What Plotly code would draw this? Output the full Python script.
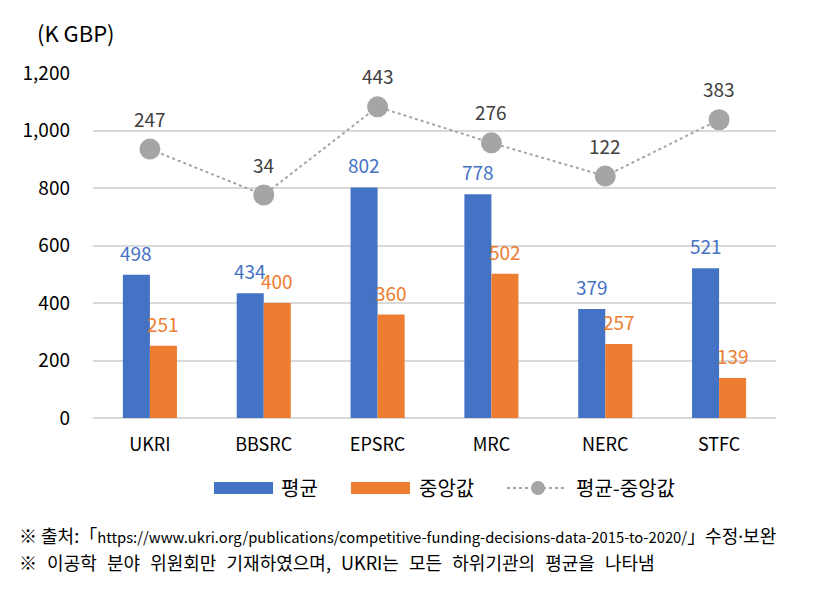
import plotly.graph_objects as go

categories = ["UKRI", "BBSRC", "EPSRC", "MRC", "NERC", "STFC"]
mean_vals = [498, 434, 802, 778, 379, 521]
median_vals = [251, 400, 360, 502, 257, 139]
diff_vals = [247, 34, 443, 276, 122, 383]
y_ticks = [0, 200, 400, 600, 800, 1000, 1200]

BLUE = "#4472C4"
ORANGE = "#ED7D31"
GRAY = "#A5A5A5"
LABEL_GRAY = "#404040"
FONT = "Noto Sans CJK KR"

L, R, T, B = 93, 776, 73, 418  # plot area in pixels

fig = go.Figure()
fig.add_trace(go.Bar(x=categories, y=mean_vals, name="평균", marker_color=BLUE,
                     marker_line_width=0))
fig.add_trace(go.Bar(x=categories, y=median_vals, name="중앙값", marker_color=ORANGE,
                     marker_line_width=0))
fig.add_trace(go.Scatter(
    x=categories, y=diff_vals, name="평균-중앙값", yaxis="y2",
    mode="lines+markers",
    line=dict(color=GRAY, width=2, dash="dot"),
    marker=dict(color=GRAY, size=21),
    cliponaxis=False,
))

# data labels
for c, v in zip(categories, mean_vals):
    fig.add_annotation(x=c, y=v, xref="x", yref="y", text=str(v), showarrow=False,
                       xshift=-13.5, yshift=22.5, yanchor="middle",
                       font=dict(size=19, color=BLUE, family=FONT))
for c, v in zip(categories, median_vals):
    fig.add_annotation(x=c, y=v, xref="x", yref="y", text=str(v), showarrow=False,
                       xshift=13.5, yshift=22.5, yanchor="middle",
                       font=dict(size=19, color=ORANGE, family=FONT))
for c, v in zip(categories, diff_vals):
    fig.add_annotation(x=c, y=v, xref="x", yref="y2", text=str(v), showarrow=False,
                       yshift=31, yanchor="middle",
                       font=dict(size=19, color=LABEL_GRAY, family=FONT))

fig.update_layout(
    width=825, height=595,
    margin=dict(l=L, r=825 - R, t=T, b=595 - B),
    paper_bgcolor="white", plot_bgcolor="white",
    barmode="group", bargap=0.525, bargroupgap=0,
    showlegend=False,
    font=dict(family=FONT, color="black", size=18),
    xaxis=dict(showgrid=False, showline=False, ticks="", ticklabelstandoff=14,
               tickfont=dict(size=18, color="black")),
    yaxis=dict(range=[0, 1200], tickvals=y_ticks, tickformat=",", showgrid=True,
               gridcolor="#D9D9D9", gridwidth=1.5, zeroline=True, zerolinecolor="#D9D9D9",
               zerolinewidth=1.5, ticks="", ticklabelstandoff=22,
               tickfont=dict(size=19, color="black")),
    yaxis2=dict(range=[-1000, 600], overlaying="y", side="right", visible=False),
)

def px(x):
    return (x - L) / (R - L)

def py(y):
    return (B - y) / (B - T)

# axis unit label
fig.add_annotation(text="(K GBP)", xref="paper", yref="paper", x=px(35), y=py(32),
                   xanchor="left", yanchor="middle", showarrow=False,
                   font=dict(size=22, family=FONT, color="black"))

# custom legend
ly = 487
fig.add_shape(type="rect", xref="paper", yref="paper", x0=px(214), x1=px(273),
              y0=py(494), y1=py(482), fillcolor=BLUE, line=dict(width=0))
fig.add_shape(type="rect", xref="paper", yref="paper", x0=px(351), x1=px(410),
              y0=py(494), y1=py(482), fillcolor=ORANGE, line=dict(width=0))
fig.add_shape(type="line", xref="paper", yref="paper", x0=px(507), x1=px(567),
              y0=py(ly + 1), y1=py(ly + 1), line=dict(color=GRAY, width=2, dash="dot"))
fig.add_shape(type="circle", xref="paper", yref="paper", x0=px(531), x1=px(545),
              y0=py(495), y1=py(481), fillcolor=GRAY, line=dict(width=0))
for label, xx in [("평균", 279), ("중앙값", 417), ("평균-중앙값", 574)]:
    fig.add_annotation(text=label, xref="paper", yref="paper", x=px(xx), y=py(ly),
                       xanchor="left", yanchor="middle", showarrow=False,
                       font=dict(size=20, family=FONT, color="black"))

# footnotes
SP = "\u2002\u200a"
URL = "https://www.ukri.org/publications/competitive-funding-decisions-data-2015-to-2020/"
DOT = "<span style=\"font-family:Noto Sans\">·</span>"
notes = [
    "※ 출처:「<span style=\"font-size:14.8px\">" + URL + "</span>」수정" + DOT + "보완",
    SP.join(["※", "이공학", "분야", "위원회만", "기재하였으며,", "UKRI는", "모든", "하위기관의", "평균을", "나타냄"]),
]
for note, yy in zip(notes, [535, 562]):
    fig.add_annotation(text=note, xref="paper", yref="paper", x=px(17), y=py(yy),
                       xanchor="left", yanchor="middle", showarrow=False,
                       font=dict(size=18, family=FONT, color="black"))

fig.write_html("out.html", config={"displayModeBar": False},
               post_script="document.body.style.margin='0px';")
